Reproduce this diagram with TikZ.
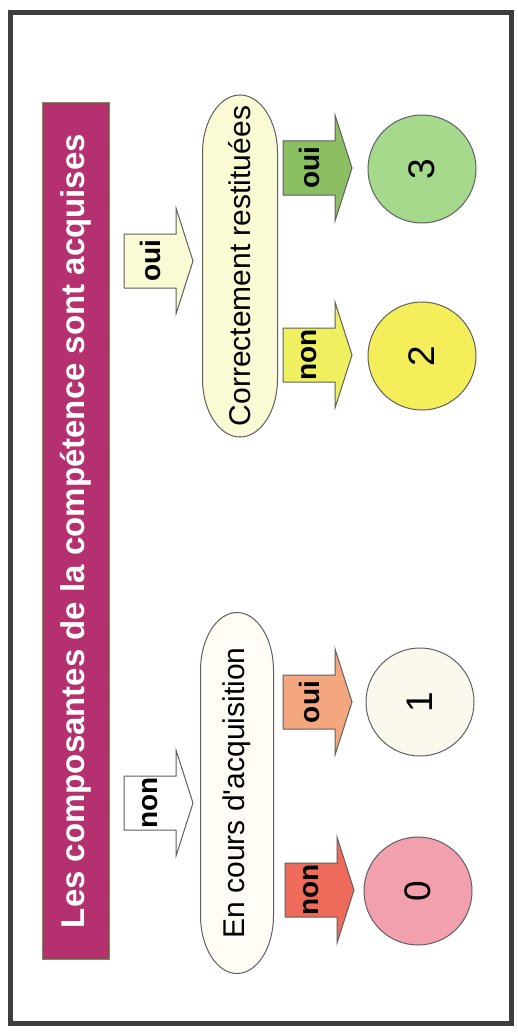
\documentclass[tikz,border=0pt]{standalone}
\usepackage{fontspec}
\setmainfont{Liberation Sans}
\usetikzlibrary{calc}
\definecolor{cadre}{RGB}{62,62,62}
\definecolor{contour}{RGB}{95,95,95}
\definecolor{titre}{RGB}{181,48,110}
\definecolor{bordtitre}{RGB}{90,160,64}
\definecolor{jaunepale}{RGB}{250,250,212}
\definecolor{creme}{RGB}{255,253,246}
\definecolor{vertfleche}{RGB}{140,191,98}
\definecolor{vertrond}{RGB}{166,217,140}
\definecolor{jaunefleche}{RGB}{238,240,96}
\definecolor{jaunerond}{RGB}{243,238,90}
\definecolor{orangefleche}{RGB}{244,166,126}
\definecolor{blancrond}{RGB}{251,248,238}
\definecolor{rougefleche}{RGB}{238,106,90}
\definecolor{roserond}{RGB}{242,160,174}
\tikzset{
  bulle/.style={rotate=90, inner sep=0pt, font=\fontsize{30}{34}\selectfont},
  rond/.style={circle, draw=contour, line width=1pt, minimum size=108pt,
    inner sep=0pt, rotate=90, font=\fontsize{37}{40}\selectfont},
  motfleche/.style={rotate=90, inner sep=0pt, font=\bfseries\fontsize{28}{30}\selectfont}
}
% flèche pleine : nom, milieu gauche du corps, couleur, mot
\newcommand{\fleche}[4]{%
  \draw[contour, line width=1pt, fill=#3] (#2) ++(0,-27) -- ++(52,0) -- ++(0,-26)
    -- ++(17,53) -- ++(-17,53) -- ++(0,-26) -- ++(-52,0) -- cycle;
  \node[motfleche] (#1) at ($(#2)+(26,0)$) {#4};
}
% contour de bulle : centre, demi-largeur, demi-longueur droite, couleur
\newcommand{\bulleforme}[4]{%
  \draw[contour, line width=1pt, fill=#4] ($(#1)+(-#2,-#3)$)
    arc[start angle=180, end angle=360, x radius=#2, y radius=58] -- ++(0,2*#3)
    arc[start angle=0, end angle=180, x radius=#2, y radius=58] -- cycle;
}
\begin{document}
\begin{tikzpicture}[x=1pt,y=-1pt]
        \useasboundingbox (0,0) rectangle (517,1035);
        \fill[white] (0,0) rectangle (517,1035);
        \draw[cadre, line width=5pt] (10,13) rectangle (511,1023);
        % bandeau du titre
        \node[fill=titre, draw=bordtitre, line width=1pt, minimum width=856pt, minimum height=67pt,
            rotate=90, text=white, font=\bfseries\fontsize{33}{36}\selectfont] (titre) at (75.5,531)
            {Les composantes de la compétence sont acquises};
        % bulles
        \bulleforme{240,266}{37.5}{113}{jaunepale}
        \node[bulle] (restit) at (240,266) {Correctement restituées};
        \bulleforme{237,793}{36.5}{122.5}{creme}
        \node[bulle] (encours) at (237,793) {En cours d\textquotesingle acquisition};
        % flèches
        \fleche{foui}{124,261}{jaunepale}{oui}
        \fleche{fnon}{124,803}{white}{non}
        \fleche{foui3}{283,168}{vertfleche}{oui}
        \fleche{fnon2}{283,355}{jaunefleche}{non}
        \fleche{foui1}{283,702}{orangefleche}{oui}
        \fleche{fnon0}{285,890}{rougefleche}{non}
        % niveaux
        \node[rond, fill=vertrond] (n3) at (422,169) {3};
        \node[rond, fill=jaunerond] (n2) at (422,356) {2};
        \node[rond, fill=blancrond] (n1) at (420,702) {1};
        \node[rond, fill=roserond] (n0) at (418,891) {0};
    \end{tikzpicture}
\end{document}
